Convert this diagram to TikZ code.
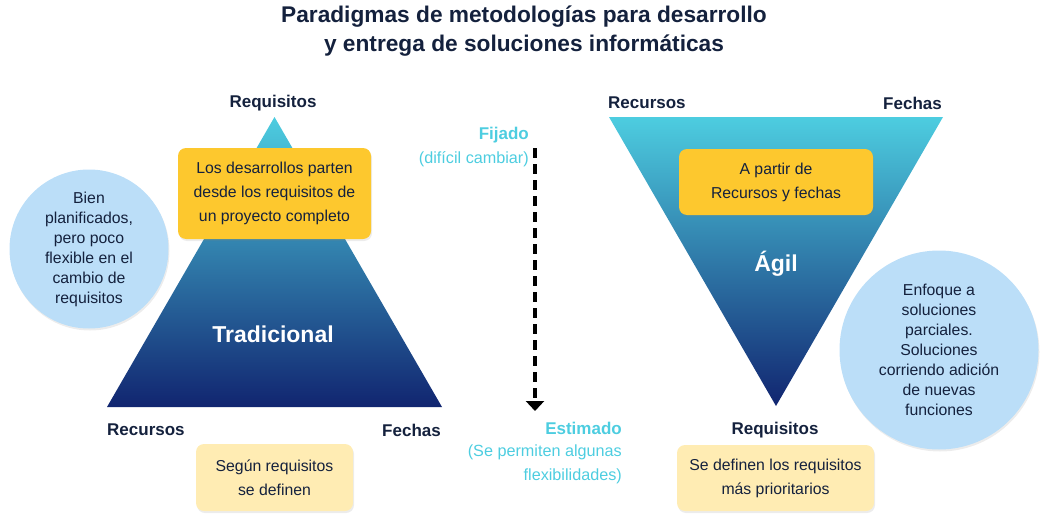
\documentclass[tikz,border=0pt]{standalone}
\usepackage{fontspec}
\setmainfont{Liberation Sans}
\usetikzlibrary{arrows.meta,shadows}

\definecolor{tinta}{HTML}{14213D}
\definecolor{cian}{HTML}{4DCDE0}
\definecolor{marino}{HTML}{112570}
\definecolor{amarillo}{HTML}{FDC82E}
\definecolor{amarilloclaro}{HTML}{FFECB3}
\definecolor{celeste}{HTML}{BBDEF8}

\tikzset{
  caja/.style={fill=amarillo, rounded corners=8pt, inner sep=0pt, align=center,
    text=tinta, font=\fontsize{15.8}{24}\selectfont,
    drop shadow={opacity=0.15, shadow xshift=1pt, shadow yshift=-2pt}},
  cajaclara/.style={caja, fill=amarilloclaro},
  burbuja/.style={circle, fill=celeste, inner sep=0pt, align=center, text=tinta,
    font=\fontsize{15.8}{20}\selectfont,
    drop shadow={opacity=0.15, shadow xshift=1pt, shadow yshift=-2pt}},
  etiqueta/.style={text=tinta, font=\bfseries\fontsize{17}{20}\selectfont, inner sep=0pt},
  nombre/.style={text=white, font=\bfseries\fontsize{23}{24}\selectfont, inner sep=0pt},
  nota/.style={text=cian, inner sep=0pt, align=right, font=\fontsize{16.2}{24}\selectfont},
  flecha/.style={line width=3.2pt, dash pattern=on 10pt off 6pt,
    -{Triangle[width=18pt,length=10pt]}},
}

\begin{document}
\begin{tikzpicture}[x=1pt, y=-1pt]
		\useasboundingbox (0,0) rectangle (1048,524);
		
		%%%%% TITULO %%%%%
		\node[text=tinta, font=\bfseries\fontsize{22.7}{29}\selectfont, align=center, inner sep=0pt]
			(titulo) at (524,31) {Paradigmas de metodologías para desarrollo\\y entrega de soluciones informáticas};
		
		%%%%% TRADICIONAL %%%%%
		\shade[top color=cian, bottom color=marino] (107,407) -- (274.5,117) -- (442,407) -- cycle;
		\node[etiqueta] (reqT) at (273,103) {Requisitos};
		\node[etiqueta, anchor=west] (recT) at (107,430) {Recursos};
		\node[etiqueta, anchor=east] (fecT) at (441,430) {Fechas};
		\node[nombre] (trad) at (273,334) {Tradicional};
		
		\node[caja, minimum width=193pt, minimum height=91pt] (partenT) at (274.5,193.5)
			{Los desarrollos parten\\desde los requisitos de\\un proyecto completo};
		\node[burbuja, minimum size=159pt] (bien) at (89,249)
			{Bien\\planificados,\\pero poco\\flexible en el\\cambio de\\requisitos};
		\node[cajaclara, minimum width=157pt, minimum height=67pt] (segun) at (274.5,477.5)
			{Según requisitos\\se definen};
		
		%%%%% FLECHA %%%%%
		\node[nota, anchor=east, font=\bfseries\fontsize{17}{20}\selectfont] (fijado) at (529,135) {Fijado};
		\node[nota, anchor=east] (dificil) at (529,159) {(difícil cambiar)};
		\coordinate (inicio) at (535,148);
		\coordinate (fin) at (535,411);
		\draw[flecha] (inicio) -- (fin);
		\node[nota, anchor=east, font=\bfseries\fontsize{17}{20}\selectfont] (estimado) at (622,428) {Estimado};
		\node[nota, anchor=east] (permiten) at (622,464) {(Se permiten algunas\\flexibilidades)};
		
		%%%%% AGIL %%%%%
		\shade[top color=cian, bottom color=marino] (609,117) -- (943,117) -- (776,406) -- cycle;
		\node[etiqueta, anchor=west] (recA) at (608,103) {Recursos};
		\node[etiqueta, anchor=east] (fecA) at (942,103) {Fechas};
		\node[etiqueta] (reqA) at (775,430) {Requisitos};
		\node[nombre] (agil) at (776,264) {Ágil};
		
		\node[caja, minimum width=194pt, minimum height=66pt] (apartir) at (776,182)
			{A partir de\\Recursos y fechas};
		\node[burbuja, minimum size=199pt] (enfoque) at (939,350)
			{Enfoque a\\soluciones\\parciales.\\Soluciones\\corriendo adición\\de nuevas\\funciones};
		\node[cajaclara, minimum width=197pt, minimum height=66pt] (definen) at (775.5,478)
			{Se definen los requisitos\\más prioritarios};
		
		%%%%% FIN %%%%%
\end{tikzpicture}
\end{document}
